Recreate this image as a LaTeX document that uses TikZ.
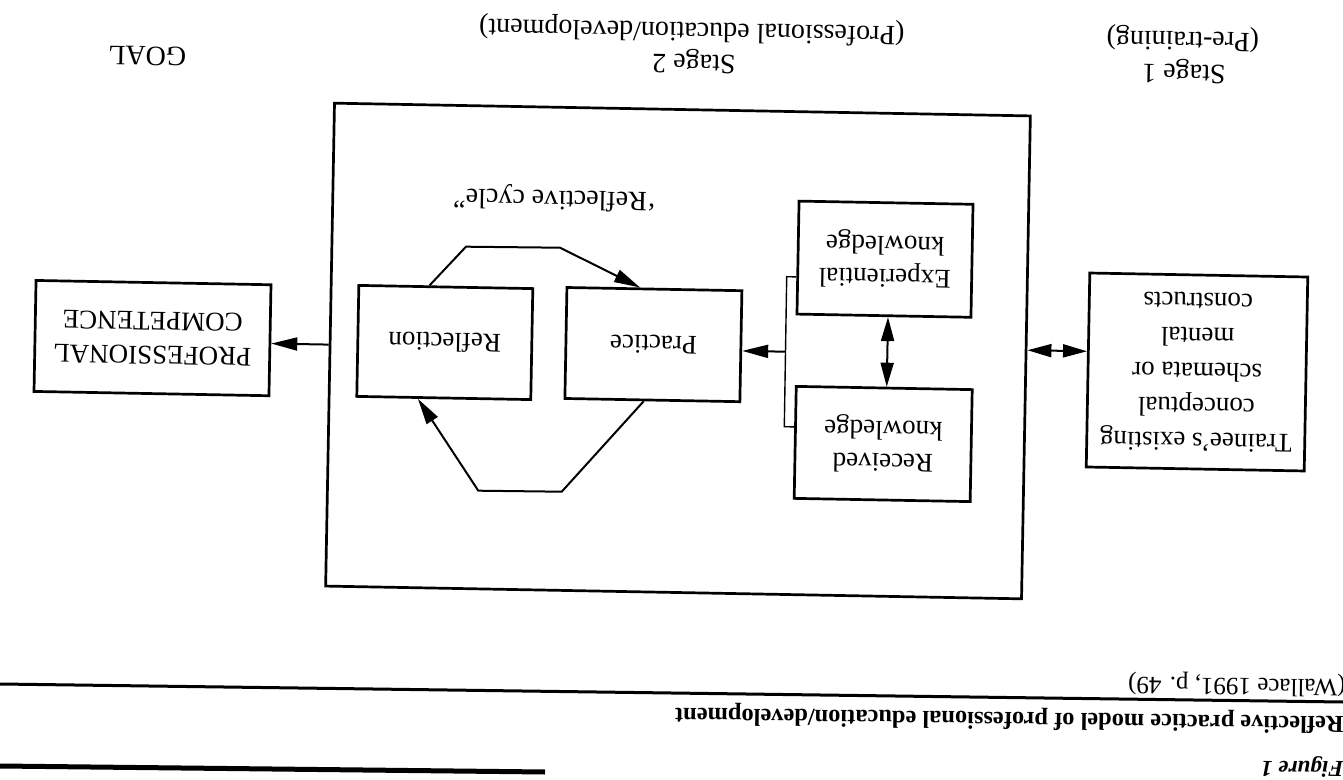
\documentclass[tikz,border=0pt]{standalone}
\usepackage{fontspec}
\setmainfont{Liberation Serif}
\usetikzlibrary{arrows.meta,calc}
\begin{document}
\begin{tikzpicture}[x=0.5pt,y=-0.5pt,
  box/.style={draw, line width=1.35pt, rotate=178.95, inner sep=0pt, align=center,
    font=\fontsize{13.5}{17}\selectfont},
  lbl/.style={rotate=178.95, anchor=base, inner sep=0pt, font=\fontsize{14}{17}\selectfont},
  captext/.style={rotate=179.23, anchor=base west, inner sep=0pt},
  conn/.style={line width=1pt},
  thinconn/.style={line width=0.7pt},
  tip/.style={-{Triangle[length=13pt,width=6.5pt]}},
  dtip/.style={{Triangle[length=12pt,width=6.5pt]}-{Triangle[length=12pt,width=6.5pt]}}
]
\useasboundingbox (0,0) rectangle (1343,780);

% boxes
\node[box, minimum width=348pt, minimum height=241.5pt] (stagetwo) at (678,351) {};
\node[box, minimum width=109pt, minimum height=97pt, font=\fontsize{13.5}{17.5}\selectfont] (trainee) at (1197,372)
  {Trainee’s existing\\conceptual\\schemata or\\mental\\constructs};
\node[box, minimum width=88pt, minimum height=56pt, font=\fontsize{13.5}{16.5}\selectfont] (received) at (883.2,444) {Received\\knowledge};
\node[box, minimum width=87pt, minimum height=56.5pt, font=\fontsize{13.5}{16.5}\selectfont] (experiential) at (885,259.2) {Experiential\\knowledge};
\node[box, minimum width=87.5pt, minimum height=55.5pt] (practice) at (653.4,344.6) {Practice};
\node[box, minimum width=87pt, minimum height=55.5pt] (reflection) at (444.8,342.5) {Reflection};
\node[box, minimum width=117.5pt, minimum height=55.5pt] (competence) at (152.5,338.1) {PROFESSIONAL\\COMPETENCE};

% labels
\node[lbl] (goal) at (147.5,47) {GOAL};
\node[lbl] (stagetwolbl) at (694,55) {Stage 2};
\node[lbl] (stagetwosub) at (692,23) {(Professional education/development)};
\node[lbl] (stageone) at (1184,65) {Stage 1};
\node[lbl] (stageonesub) at (1183,32) {(Pre-training)};
\node[lbl] (cyclelbl) at (555,191) {‘Reflective cycle”};

% trainee <-> stage 2 box
\coordinate (ta) at ($(trainee.east)!0.19!(trainee.south east)$);
\draw[conn, dtip] (ta) -- ($(stagetwo.north west)!(ta)!(stagetwo.south west)$);

% experiential <-> received
\coordinate (ka) at ($(experiential.north)!0.046!(experiential.north west)$);
\draw[conn, dtip] (ka) -- ($(received.south east)!(ka)!(received.south west)$);

% bracket and arrow to practice
\coordinate (ba) at (786.7,276.7);
\coordinate (bb) at (784.3,426.7);
\draw[thinconn] ($(experiential.north east)!(ba)!(experiential.south east)$) -- (ba) -- (bb)
  -- ($(received.north east)!(bb)!(received.south east)$);
\coordinate (bj) at ($(ba)!0.5!(bb)$);
\draw[conn, tip] (bj) -- ($(practice.north west)!(bj)!(practice.south west)$);

% stage 2 box -> competence
\draw[conn, tip] (stagetwo.east) -- ($(competence.north west)!(stagetwo.east)!(competence.south west)$);

% reflective cycle
\coordinate (ca) at (466,246.7);
\coordinate (cb) at (560,247.7);
\draw[conn, tip] ($(reflection.south east)!0.408!(reflection.south west)$) -- (ca) -- (cb)
  -- ($(practice.south east)!0.419!(practice.south west)$);
\coordinate (cc) at (561.7,491.7);
\coordinate (cd) at (478.3,490.7);
\draw[conn, tip] ($(practice.north east)!0.451!(practice.north west)$) -- (cc) -- (cd)
  -- ($(reflection.north east)!0.354!(reflection.north west)$);

% caption area
\draw[line width=1.5pt] (0,684) -- (1343,702);
\draw[line width=2.5pt] (0,766) -- (545,772);
\node[captext, font=\fontsize{12.5}{15}\selectfont] (cite) at (1346,680) {(Wallace 1991, p. 49)};
\node[captext, font=\bfseries\fontsize{12.2}{15}\selectfont] (title) at (1344,717) {Reflective practice model of professional education/development};
\node[captext, font=\bfseries\itshape\fontsize{11.5}{13}\selectfont] (fig) at (1344,762) {Figure 1};
\end{tikzpicture}
\end{document}
